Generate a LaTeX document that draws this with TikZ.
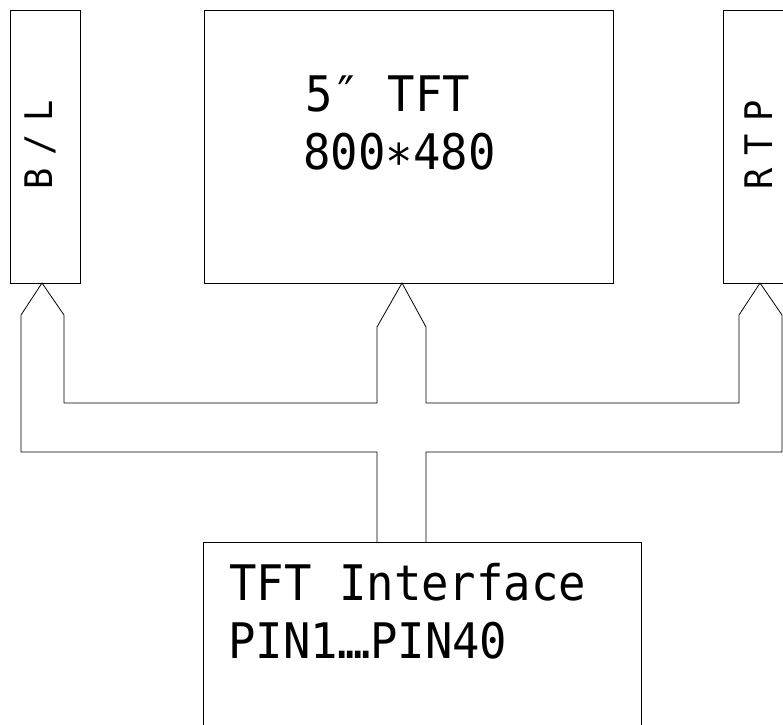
\documentclass[tikz,border=0pt]{standalone}
\usepackage{fontspec}
\newfontfamily\cadfont[FakeStretch=0.93]{DejaVu Sans Mono}
\usetikzlibrary{positioning,calc}

\newcommand{\pindots}{\makebox[8pt]{.}\makebox[8pt]{.}\makebox[8pt]{.}\makebox[8pt]{.}}

\begin{document}
\begin{tikzpicture}[x=1pt, y=-1pt, line width=0.8pt,
    box/.style={draw, rectangle, inner sep=0pt, anchor=north west},
    paneltext/.style={font=\cadfont\fontsize{49}{49}\selectfont, anchor=base west, inner sep=0pt},
    sidetext/.style={font=\cadfont\fontsize{38}{38}\selectfont, anchor=base west, inner sep=0pt, rotate=90}]
    \useasboundingbox (0,0) rectangle (783,724);
    % blocks
    \node[box, minimum width=70pt, minimum height=273pt] (bl) at (10,10) {};
    \node[box, minimum width=409pt, minimum height=273pt] (tft) at (204,10) {};
    \node[box, minimum width=100pt, minimum height=273pt] (rtp) at (723,10) {};
    \node[box, minimum width=438pt, minimum height=200pt] (iface) at (203,542) {};
    % texts
    \node[sidetext] (bltext) at (52,190) {B\kern13pt/\kern13pt L};
    \node[sidetext] (rtptext) at (772,190) {R\kern13pt T\kern13pt P};
    \node[paneltext] (size) at (305,111) {5″ TFT};
    \node[paneltext] (res) at (303,169) {800∗480};
    \node[paneltext] (ifname) at (229,600) {TFT Interface};
    \node[paneltext] (pins) at (228,658) {PIN1\pindots PIN40};
    % bus
    \coordinate (bltip) at (42,283);
    \coordinate (tfttip) at (402,283);
    \coordinate (rtptip) at (760,283);
    \coordinate (busl) at (377,542);
    \coordinate (busr) at (426,542);
    \draw (busl) -- (377,452) -- (21,452) -- (21,315) -- (bltip) -- (64,315) -- (64,403)
        -- (377,403) -- (377,327) -- (tfttip) -- (426,327) -- (426,403) -- (739,403)
        -- (739,315) -- (rtptip) -- (782,315) -- (782,452) -- (426,452) -- (busr);
\end{tikzpicture}
\end{document}
